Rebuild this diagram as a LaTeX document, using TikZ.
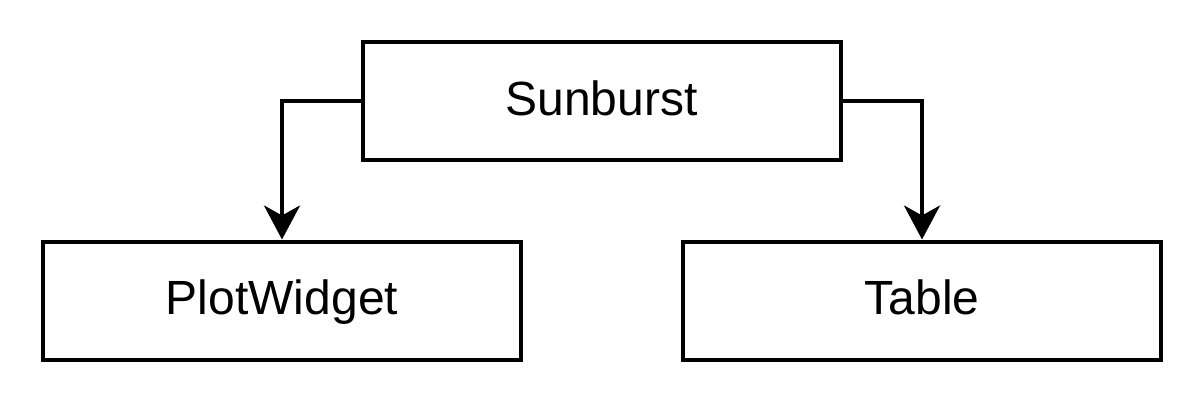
\documentclass[tikz,border=0pt]{standalone}
\usepackage{fontspec}
\setmainfont{Liberation Sans}
\usetikzlibrary{arrows.meta}

\begin{document}
\begin{tikzpicture}[x=0.5pt,y=-0.5pt,->,>={Stealth[length=17pt,width=18pt,inset=5pt]},
  line width=2pt,
  class node/.style={rectangle,draw,minimum width=239pt,minimum height=59pt,
    inner sep=0pt,text height=18pt,text depth=4pt,font=\fontsize{24}{28}\selectfont}]

  \useasboundingbox (0,0) rectangle (1202,418);

  \node[class node] (sunburst) at (601.5,101) {Sunburst};
  \node[class node] (plot) at (282,300.5) {PlotWidget};
  \node[class node] (table) at (922,300.5) {Table};

  \draw (sunburst.west) -| (plot.north);
  \draw (sunburst.east) -| (table.north);
\end{tikzpicture}
\end{document}
